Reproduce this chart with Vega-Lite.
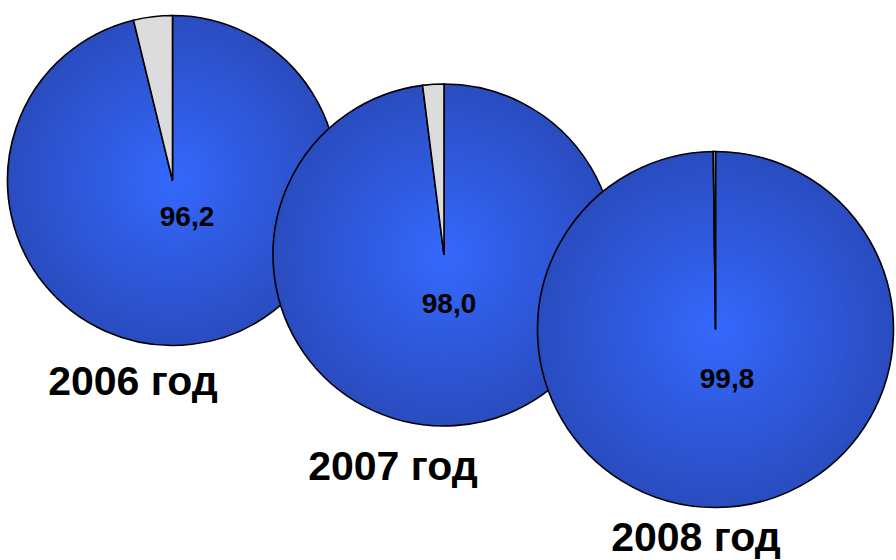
{
  "$schema": "https://vega.github.io/schema/vega-lite/v6.json",
  "width": 896,
  "height": 560,
  "padding": 0,
  "autosize": {"type": "fit", "contains": "padding"},
  "background": "white",
  "config": {
    "view": {"stroke": null},
    "locale": {"number": {"decimal": ",", "thousands": " ", "grouping": [3], "currency": ["", ""]}}
  },
  "datasets": {
    "pies": [
      {"year": "2006", "part": "main", "value": 96.2},
      {"year": "2006", "part": "other", "value": 3.8},
      {"year": "2007", "part": "main", "value": 98.0},
      {"year": "2007", "part": "other", "value": 2.0},
      {"year": "2008", "part": "main", "value": 99.8},
      {"year": "2008", "part": "other", "value": 0.2}
    ],
    "labels": [
      {"year": "2006", "label": "2006 год"},
      {"year": "2007", "label": "2007 год"},
      {"year": "2008", "label": "2008 год"}
    ]
  },
  "encoding": {
    "x": {"field": "year", "type": "ordinal", "scale": {"type": "point", "padding": 0, "domain": ["2006", "2007", "2008"], "range": [172.5, 715.5]}, "axis": null},
    "y": {"field": "year", "type": "ordinal", "scale": {"type": "point", "padding": 0, "domain": ["2006", "2007", "2008"], "range": [180.5, 329.5]}, "axis": null}
  },
  "layer": [
    {
      "data": {"name": "pies"},
      "transform": [{"filter": "datum.year === '2006'"}],
      "mark": {"type": "arc", "radius": 165, "stroke": "#000000", "strokeWidth": 1.6},
      "encoding": {
        "theta": {"field": "value", "type": "quantitative", "stack": true},
        "order": {"field": "value", "sort": "descending"},
        "fill": {"condition": {"test": "datum.part === 'main'", "value": {"gradient": "radial", "x1": 0.5, "y1": 0.5, "r1": 0, "x2": 0.5, "y2": 0.5, "r2": 0.5, "stops": [{"offset": 0, "color": "#3468fc"}, {"offset": 1, "color": "#2a4cc0"}]}}, "value": "#dcdcdc"}
      }
    },
    {
      "data": {"name": "pies"},
      "transform": [{"filter": "datum.year === '2006' && datum.part === 'main'"}],
      "mark": {"type": "text", "font": "Liberation Sans", "fontWeight": "bold", "fontSize": 28, "color": "#000000", "align": "center", "baseline": "middle", "dx": 14.5, "dy": 37.5},
      "encoding": {"text": {"field": "value", "type": "quantitative", "format": ".1f"}}
    },
    {
      "data": {"name": "pies"},
      "transform": [{"filter": "datum.year === '2007'"}],
      "mark": {"type": "arc", "radius": 171, "stroke": "#000000", "strokeWidth": 1.6},
      "encoding": {
        "theta": {"field": "value", "type": "quantitative", "stack": true},
        "order": {"field": "value", "sort": "descending"},
        "fill": {"condition": {"test": "datum.part === 'main'", "value": {"gradient": "radial", "x1": 0.5, "y1": 0.5, "r1": 0, "x2": 0.5, "y2": 0.5, "r2": 0.5, "stops": [{"offset": 0, "color": "#3468fc"}, {"offset": 1, "color": "#2a4cc0"}]}}, "value": "#dcdcdc"}
      }
    },
    {
      "data": {"name": "pies"},
      "transform": [{"filter": "datum.year === '2007' && datum.part === 'main'"}],
      "mark": {"type": "text", "font": "Liberation Sans", "fontWeight": "bold", "fontSize": 28, "color": "#000000", "align": "center", "baseline": "middle", "dx": 5, "dy": 50},
      "encoding": {"text": {"field": "value", "type": "quantitative", "format": ".1f"}}
    },
    {
      "data": {"name": "pies"},
      "transform": [{"filter": "datum.year === '2008'"}],
      "mark": {"type": "arc", "radius": 178, "stroke": "#000000", "strokeWidth": 1.6},
      "encoding": {
        "theta": {"field": "value", "type": "quantitative", "stack": true},
        "order": {"field": "value", "sort": "descending"},
        "fill": {"condition": {"test": "datum.part === 'main'", "value": {"gradient": "radial", "x1": 0.5, "y1": 0.5, "r1": 0, "x2": 0.5, "y2": 0.5, "r2": 0.5, "stops": [{"offset": 0, "color": "#3468fc"}, {"offset": 1, "color": "#2a4cc0"}]}}, "value": "#dcdcdc"}
      }
    },
    {
      "data": {"name": "pies"},
      "transform": [{"filter": "datum.year === '2008' && datum.part === 'main'"}],
      "mark": {"type": "text", "font": "Liberation Sans", "fontWeight": "bold", "fontSize": 28, "color": "#000000", "align": "center", "baseline": "middle", "dx": 11.5, "dy": 50.5},
      "encoding": {"text": {"field": "value", "type": "quantitative", "format": ".1f"}}
    },
    {
      "data": {"name": "labels"},
      "transform": [{"filter": "datum.year === '2006'"}],
      "mark": {"type": "text", "font": "Liberation Sans", "fontWeight": "bold", "fontSize": 41, "color": "#000000", "align": "center", "baseline": "alphabetic", "dx": -39.5, "dy": 214.5},
      "encoding": {"text": {"field": "label", "type": "nominal"}}
    },
    {
      "data": {"name": "labels"},
      "transform": [{"filter": "datum.year === '2007'"}],
      "mark": {"type": "text", "font": "Liberation Sans", "fontWeight": "bold", "fontSize": 41, "color": "#000000", "align": "center", "baseline": "alphabetic", "dx": -51, "dy": 225},
      "encoding": {"text": {"field": "label", "type": "nominal"}}
    },
    {
      "data": {"name": "labels"},
      "transform": [{"filter": "datum.year === '2008'"}],
      "mark": {"type": "text", "font": "Liberation Sans", "fontWeight": "bold", "fontSize": 41, "color": "#000000", "align": "center", "baseline": "alphabetic", "dx": -19.5, "dy": 221.5},
      "encoding": {"text": {"field": "label", "type": "nominal"}}
    }
  ]
}
